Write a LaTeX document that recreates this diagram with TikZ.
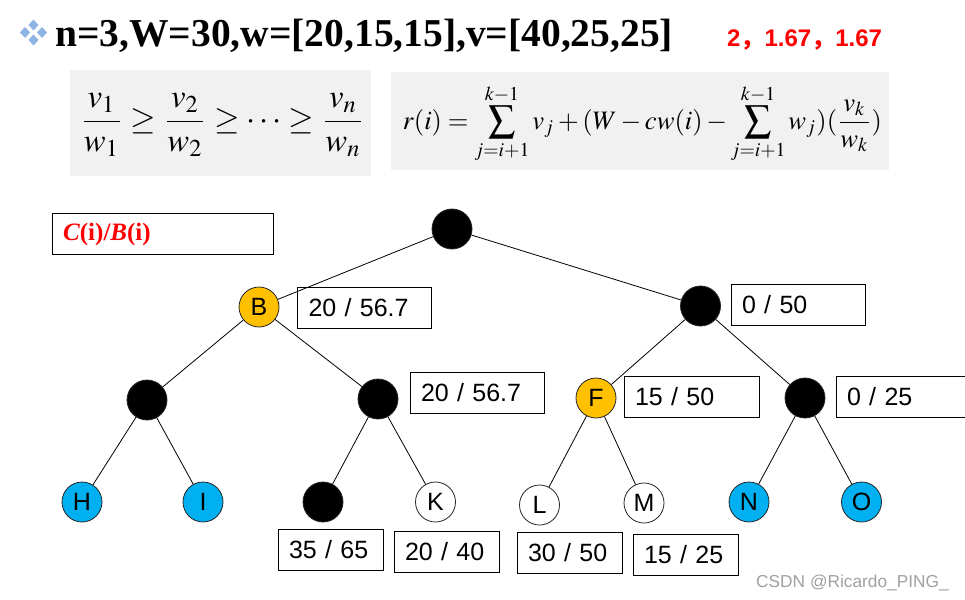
\documentclass[tikz,border=0pt]{standalone}
\usepackage{mathptmx}
\usepackage[no-math]{fontspec}
\usepackage{graphicx}
\newfontfamily\arialf{Liberation Sans}
\newfontfamily\timesf{Liberation Serif}
\newfontfamily\cjkf{Noto Sans CJK SC}
\definecolor{gold}{RGB}{255,192,0}
\definecolor{skyc}{RGB}{0,176,240}
\definecolor{diac}{RGB}{141,180,226}
\definecolor{fbg}{RGB}{241,241,241}
\definecolor{wmc}{RGB}{160,160,160}
\begin{document}
\begin{tikzpicture}[x=1pt,y=-1pt,
  nd/.style={circle, draw=black!85, line width=0.8pt, minimum size=40pt, inner sep=0pt, font=\arialf\fontsize{25}{25}\selectfont},
  blk/.style={nd, fill=black},
  gld/.style={nd, fill=gold},
  skyn/.style={nd, fill=skyc},
  wht/.style={nd, fill=white},
  lbl/.style={draw, line width=0.9pt, inner xsep=11pt, inner ysep=0pt, minimum height=41pt, text width=#1, align=left, font=\arialf\fontsize{25}{30}\selectfont},
  edge/.style={line width=0.8pt},
  fbox/.style={fill=fbg, inner sep=0pt}
]
\useasboundingbox (0,0) rectangle (965,599);

% icon
\foreach \cx/\cy in {33.5/25, 25/32.5, 42/32.5, 33.5/40}{
  \fill[diac] (\cx-5,\cy) -- (\cx,\cy-5.5) -- (\cx+5,\cy) -- (\cx,\cy+5.5) -- cycle;
}
\node[anchor=base west, inner sep=0pt, font=\timesf\bfseries\fontsize{39.5}{40}\selectfont] (title) at (55,47) {n=3,W=30,w=[20,15,15],v=[40,25,25]};
\node[anchor=base west, inner sep=0pt, text=red, font=\arialf\bfseries\fontsize{24}{24}\selectfont] (ratio) at (727,47) {2{\cjkf ，}1.67{\cjkf ，}1.67};

% formula boxes
\node[fbox, minimum width=301pt, minimum height=106pt] (fb1) at (220.5,123) {};
\node[inner sep=0pt] (f1) at (222.5,125) {\resizebox{285pt}{!}{$\displaystyle \frac{v_1}{w_1}\geq\frac{v_2}{w_2}\geq\cdots\geq\frac{v_n}{w_n}$}};
\node[fbox, minimum width=498pt, minimum height=98pt] (fb2) at (640,121) {};
\node[inner sep=0pt] (f2) at (642.5,124) {\resizebox{479pt}{!}{$\displaystyle r(i)=\sum_{j=i+1}^{k-1}v_j+(W-cw(i)-\sum_{j=i+1}^{k-1}w_j)(\frac{v_k}{w_k})$}};

% legend box
\node[draw, line width=0.9pt, inner xsep=11pt, inner ysep=0pt, minimum height=41pt, text width=199pt, align=left, text=red, font=\timesf\bfseries\fontsize{25}{25}\selectfont] (cb) at (162.5,234) {\textit{C}(i)/\textit{B}(i)};

% tree nodes
\node[blk] (root) at (452,229) {};
\node[gld] (b) at (259,307) {B};
\node[blk] (r1) at (700.5,306) {};
\node[blk] (ll) at (147,400) {};
\node[blk] (lr) at (378,399) {};
\node[gld] (f) at (596,398) {F};
\node[blk] (rr) at (805,398) {};
\node[skyn] (h) at (82,502) {H};
\node[skyn] (i) at (203,502) {I};
\node[blk] (lf) at (323,502) {};
\node[wht] (k) at (435.5,502) {K};
\node[wht] (l) at (539.5,505) {L};
\node[wht] (m) at (644,503) {M};
\node[skyn] (n) at (749,502) {N};
\node[skyn] (o) at (861.5,502) {O};

\draw[edge] (root) -- (b);
\draw[edge] (root) -- (r1);
\draw[edge] (b) -- (ll);
\draw[edge] (b) -- (lr);
\draw[edge] (r1) -- (f);
\draw[edge] (r1) -- (rr);
\draw[edge] (ll) -- (h);
\draw[edge] (ll) -- (i);
\draw[edge] (lr) -- (lf);
\draw[edge] (lr) -- (k);
\draw[edge] (f) -- (l);
\draw[edge] (f) -- (m);
\draw[edge] (rr) -- (n);
\draw[edge] (rr) -- (o);

% labels
\node[lbl=112pt] (lbB) at (364.5,307.5) {20 / 56.7};
\node[lbl=112pt] (lbR1) at (798,305) {0 / 50};
\node[lbl=112pt] (lbLR) at (477,392.5) {20 / 56.7};
\node[lbl=113pt] (lbF) at (691.5,396.5) {15 / 50};
\node[lbl=110pt] (lbRR) at (902,396.5) {0 / 25};
\node[lbl=83pt] (lb35) at (330.5,550) {35 / 65};
\node[lbl=83pt] (lb2040) at (446.5,552) {20 / 40};
\node[lbl=83pt] (lb3050) at (569.5,552.5) {30 / 50};
\node[lbl=83pt] (lb1525) at (685.5,554.5) {15 / 25};

\node[anchor=base west, inner sep=0pt, text=wmc, font=\arialf\fontsize{17.3}{18}\selectfont] (wm) at (756,587) {CSDN @Ricardo\_PING\_};
\end{tikzpicture}
\end{document}
